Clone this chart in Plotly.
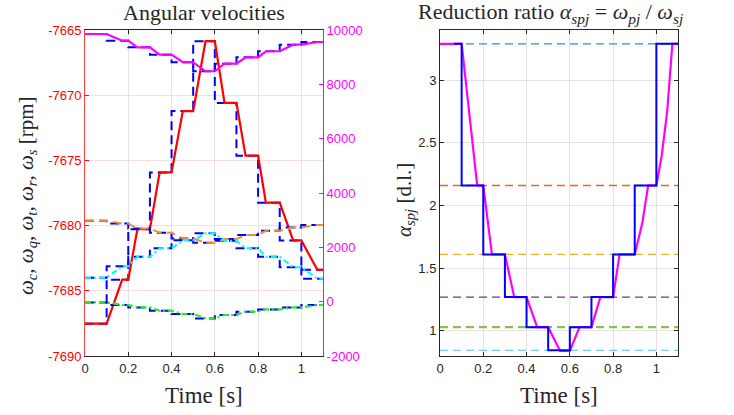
import plotly.graph_objects as go

# ---------------- data ----------------
step_times = [0.1, 0.2, 0.3, 0.4, 0.5, 0.6, 0.7, 0.8, 0.9, 1.0]
ramp_end_times = [0.172, 0.242, 0.345, 0.452, 0.557, 0.645, 0.742, 0.836, 0.962, 1.074]
t_end = 1.1

# left axis (rpm)
w_c_levels = [-7687.52, -7684.15, -7680.28, -7675.92, -7671.22, -7665.86,
              -7670.59, -7674.64, -7678.24, -7681.14, -7683.39]
# right axis (rpm)
w_q_levels = [9853, 9607, 9364, 9092, 8812, 8481, 8761, 8996, 9217, 9459, 9559]
w_t_levels = [2977, 2878, 2694, 2536, 2326, 2168, 2304, 2451, 2609, 2731, 2819]
w_r_levels = [881, 1304, 1653, 1966, 2260, 2517, 2241, 1966, 1653, 1267, 844]
w_s_levels = [-27, -123, -211, -332, -454, -616, -490, -369, -285, -211, -123]

# reduction ratio
ratio_levels = [3.29, 2.16, 1.61, 1.27, 1.03, 0.846, 1.03, 1.27, 1.61, 2.16, 3.29]
ratio_ref_start = 0.065
ratio_t = [0, 0.1, 0.172, 0.2, 0.24, 0.3, 0.343, 0.4, 0.449, 0.5, 0.555, 0.6,
           0.645, 0.7, 0.741, 0.8, 0.83, 0.9, 0.935, 0.962, 1.0, 1.025, 1.05, 1.074, 1.1]
ratio_v = [3.29, 3.29, 2.16, 2.16, 1.61, 1.61, 1.27, 1.27, 1.03, 1.03, 0.84, 0.84,
           1.03, 1.03, 1.27, 1.27, 1.61, 1.61, 1.86, 2.16, 2.16, 2.40, 2.75, 3.29, 3.29]
ratio_line_levels = [3.29, 2.16, 1.61, 1.27, 1.03, 0.846]
ratio_line_colors = ['#2F8FD8', '#E8652E', '#EDB120', '#7E2F8E', '#8DBE55', '#4DBEEE']
ratio_line_widths = [1.2, 1.3, 1.2, 1.2, 2.2, 1.2]

x_ticks = [0, 0.2, 0.4, 0.6, 0.8, 1.0]
x_tick_text = ['0', '0.2', '0.4', '0.6', '0.8', '1']
left_ticks = [-7690, -7685, -7680, -7675, -7670, -7665]
right_ticks = [-2000, 0, 2000, 4000, 6000, 8000, 10000]
ratio_ticks = [1, 1.5, 2, 2.5, 3]


def actual(levels):
    t, v = [0.0], [levels[0]]
    for k, ts in enumerate(step_times):
        t += [ts, ramp_end_times[k]]
        v += [levels[k], levels[k + 1]]
    t.append(t_end)
    v.append(levels[-1])
    return t, v


def reference(levels, start=0.0):
    t, v = [start], [levels[0]]
    for k, ts in enumerate(step_times):
        t += [ts, ts]
        v += [levels[k], levels[k + 1]]
    t.append(t_end)
    v.append(levels[-1])
    return t, v


fig = go.Figure()
BLUE = '#0000FF'
DASH = '9px,5px'

# left axis: carrier speed
rt, rv = reference(w_c_levels)
fig.add_trace(go.Scatter(x=rt, y=rv, mode='lines', xaxis='x', yaxis='y',
                         line=dict(color=BLUE, width=2, dash=DASH), showlegend=False))
at, av = actual(w_c_levels)
fig.add_trace(go.Scatter(x=at, y=av, mode='lines', xaxis='x', yaxis='y',
                         line=dict(color='#FF0000', width=2.2), showlegend=False))

# right axis signals
styles = [
    (w_q_levels, dict(color='#FF00FF', width=2.2)),
    (w_t_levels, dict(color='#E8903F', width=2, dash=DASH)),
    (w_r_levels, dict(color='#00FFFF', width=2.2, dash='6px,3px,2px,3px')),
    (w_s_levels, dict(color='#22EE22', width=2.2, dash='6px,3px,2px,3px')),
]
for lv, st in styles:
    rt, rv = reference(lv)
    fig.add_trace(go.Scatter(x=rt, y=rv, mode='lines', xaxis='x', yaxis='y2',
                             line=dict(color=BLUE, width=2, dash=DASH), showlegend=False))
for lv, st in styles:
    at, av = actual(lv)
    fig.add_trace(go.Scatter(x=at, y=av, mode='lines', xaxis='x', yaxis='y2',
                             line=st, showlegend=False))

# right subplot: ratio
for lvl, col, lw in zip(ratio_line_levels, ratio_line_colors, ratio_line_widths):
    fig.add_trace(go.Scatter(x=[0, t_end], y=[lvl, lvl], mode='lines', xaxis='x2', yaxis='y3',
                             line=dict(color=col, width=lw, dash='8px,5px'), showlegend=False))
fig.add_trace(go.Scatter(x=ratio_t, y=ratio_v, mode='lines', xaxis='x2', yaxis='y3',
                         line=dict(color='#FF00FF', width=2.2), showlegend=False))
rt, rv = reference(ratio_levels, ratio_ref_start)
fig.add_trace(go.Scatter(x=rt, y=rv, mode='lines', xaxis='x2', yaxis='y3',
                         line=dict(color=BLUE, width=2), showlegend=False))

W, H = 734, 415


def px(x):
    return x / W


def py(y):
    return (H - y) / H


xd1 = [px(85), px(323)]
xd2 = [px(440), px(678)]
yd = [py(356), py(30)]

TICKF = dict(family='Liberation Sans, Arial', size=13, color='#262626')
common_x = dict(range=[0, t_end], tickvals=x_ticks, ticktext=x_tick_text,
                ticks='inside', ticklen=4, tickcolor='#262626', showline=True,
                linecolor='#262626', linewidth=1, mirror='ticks', showgrid=True,
                gridcolor='#E3E3E3', zeroline=False, tickfont=TICKF, automargin=False)

fig.update_layout(
    width=W, height=H, margin=dict(l=0, r=0, t=0, b=0, autoexpand=False),
    plot_bgcolor='white', paper_bgcolor='white', hovermode=False,
    xaxis=dict(domain=xd1, anchor='y', **common_x),
    yaxis=dict(domain=yd, anchor='x', range=[-7690, -7665], tickvals=left_ticks,
               ticktext=[str(v) for v in left_ticks], automargin=False,
               ticks='inside', ticklen=4, tickcolor='#FF0000', showline=True, linecolor='#FF4040',
               linewidth=1, showgrid=True, gridcolor='#FFDCDC', zeroline=False,
               tickfont=dict(family='Liberation Sans, Arial', size=13, color='#FF0000')),
    yaxis2=dict(overlaying='y', anchor='x', side='right', range=[-2000, 10000],
                tickvals=right_ticks, ticktext=[str(v) for v in right_ticks], automargin=False,
                ticks='inside', ticklen=4, tickcolor='#FF00FF', showline=True, linecolor='#FF00FF',
                linewidth=1, showgrid=False, zeroline=False,
                tickfont=dict(family='Liberation Sans, Arial', size=13, color='#FF00FF')),
    xaxis2=dict(domain=xd2, anchor='y3', **common_x),
    yaxis3=dict(domain=yd, anchor='x2', range=[0.8, 3.4], tickvals=ratio_ticks,
                ticktext=[f'{v:g}' for v in ratio_ticks], automargin=False,
                ticks='inside', ticklen=4, tickcolor='#262626', showline=True, linecolor='#262626',
                linewidth=1, mirror='ticks', showgrid=True, gridcolor='#E3E3E3', zeroline=False,
                tickfont=TICKF),
)

SERIF = 'Liberation Serif, Times New Roman, serif'
ann = [
    dict(text='Angular velocities', x=(xd1[0] + xd1[1]) / 2, y=py(13), size=22, angle=0),
    dict(text='Reduction ratio <i>α<sub>spj</sub></i> = <i>ω<sub>pj</sub></i> / <i>ω<sub>sj</sub></i>',
         x=px(550), y=py(13), size=22, angle=0),
    dict(text='Time [s]', x=(xd1[0] + xd1[1]) / 2, y=py(395), size=23, angle=0),
    dict(text='Time [s]', x=(xd2[0] + xd2[1]) / 2, y=py(395), size=23, angle=0),
    dict(text='<i>ω<sub>c</sub></i>, <i>ω<sub>q</sub></i>, <i>ω<sub>t</sub></i>, <i>ω<sub>r</sub></i>, <i>ω<sub>s</sub></i> [rpm]',
         x=px(27), y=py(196), size=21, angle=-90),
    dict(text='<i>α<sub>spj</sub></i> [d.l.]', x=px(405), y=py(200), size=21, angle=-90),
]
for a in ann:
    fig.add_annotation(text=a['text'], x=a['x'], y=a['y'], xref='paper', yref='paper',
                       xanchor='center', yanchor='middle', showarrow=False, textangle=a['angle'],
                       font=dict(family=SERIF, size=a['size'], color='#262626'))

fig.write_html('out.html', config={'displayModeBar': False, 'staticPlot': True},
               post_script="document.body.style.margin='0';document.body.style.padding='0';")
